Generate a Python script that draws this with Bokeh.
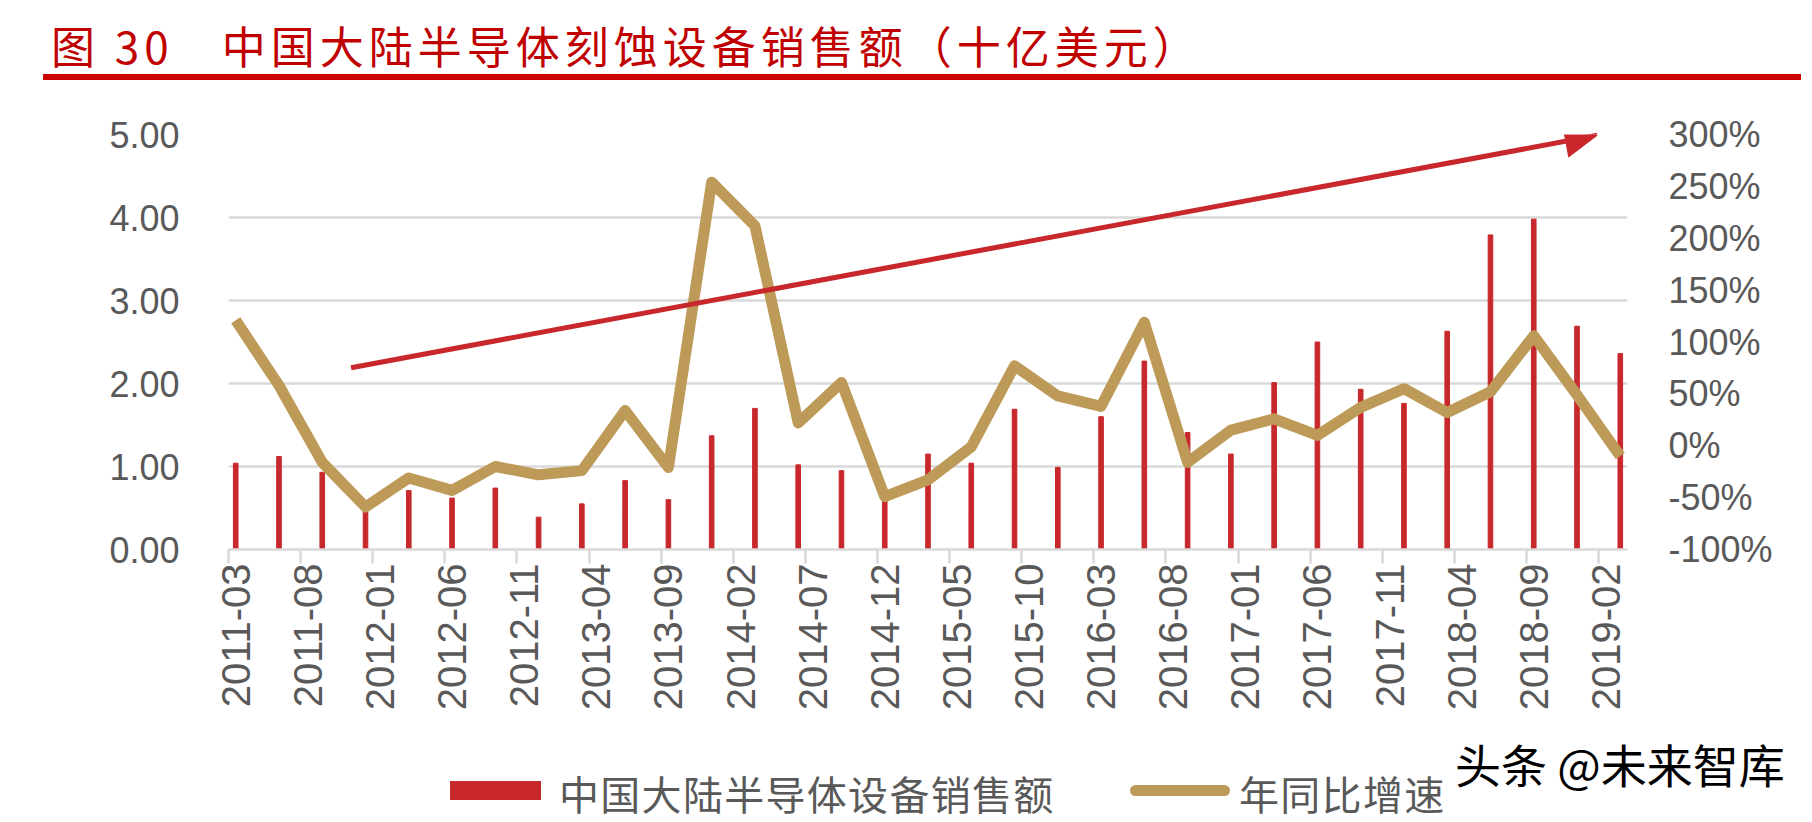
import math
from bokeh.plotting import figure
from bokeh.models import (Range1d, LinearAxis, FixedTicker, PrintfTickFormatter,
                          Arrow, NormalHead, Div)
from bokeh.layouts import column
from bokeh.embed import file_html
from bokeh.resources import INLINE

# quarterly data, x axis runs month by month from 2011-03 to 2019-03
quarters = ["2011-03", "2011-06", "2011-09", "2011-12",
            "2012-03", "2012-06", "2012-09", "2012-12",
            "2013-03", "2013-06", "2013-09", "2013-12",
            "2014-03", "2014-06", "2014-09", "2014-12",
            "2015-03", "2015-06", "2015-09", "2015-12",
            "2016-03", "2016-06", "2016-09", "2016-12",
            "2017-03", "2017-06", "2017-09", "2017-12",
            "2018-03", "2018-06", "2018-09", "2018-12",
            "2019-03"]
# sales, billion USD
sales = [1.04, 1.12, 0.93, 0.48, 0.71, 0.62, 0.74, 0.39,
         0.55, 0.83, 0.60, 1.37, 1.70, 1.02, 0.95, 0.60,
         1.15, 1.04, 1.69, 0.99, 1.60, 2.27, 1.41, 1.15,
         2.01, 2.50, 1.93, 1.76, 2.63, 3.79, 3.98, 2.69,
         2.36]
# year-on-year growth, %
yoy = [121, 58, -16, -59, -31, -43, -20, -28,
       -24, 34, -21, 254, 212, 22, 61, -49,
       -33, -1, 77, 48, 38, 119, -16, 15,
       26, 10, 37, 55, 32, 52, 106, 49,
       -10]

tick_labels = ["2011-03", "2011-08", "2012-01", "2012-06", "2012-11",
               "2013-04", "2013-09", "2014-02", "2014-07", "2014-12",
               "2015-05", "2015-10", "2016-03", "2016-08", "2017-01",
               "2017-06", "2017-11", "2018-04", "2018-09", "2019-02"]
left_ticks = [0, 1, 2, 3, 4, 5]
right_ticks = [-100, -50, 0, 50, 100, 150, 200, 250, 300]

TITLE_NUM = "图 30"
TITLE_TEXT = "中国大陆半导体刻蚀设备销售额（十亿美元）"
BAR_LABEL = "中国大陆半导体设备销售额"
LINE_LABEL = "年同比增速"
WATERMARK = "头条 @未来智库"

# trend arrow (month position, left axis value)
ARROW_START = (8.5, 2.19)
ARROW_END = (94.9, 4.99)

RED = "#c8282c"
GOLD = "#bd9a58"
GRAY = "#595959"
GRID = "#d9d9d9"


def month_pos(s):
    y, m = s.split("-")
    return (int(y) - 2011) * 12 + int(m) - 3


bar_x = [month_pos(q) + 0.5 for q in quarters]
tick_pos = [month_pos(t) for t in tick_labels]
label_pos = [t + 0.5 for t in tick_pos]

title_html = (
    '<div style="margin-left:38px;width:1758px;height:75px;box-sizing:border-box;'
    'padding-top:11px;border-bottom:6px solid #cc0000;font-family:\'Noto Sans CJK SC\';'
    'font-size:44px;line-height:58px;color:#c00000;letter-spacing:5px;white-space:nowrap">'
    '<span style="margin-left:8px">%s</span><span style="margin-left:48px">%s</span></div>'
    % (TITLE_NUM, TITLE_TEXT))
title = Div(text=title_html, width=1796, height=75)

p = figure(width=1803, height=640, x_range=Range1d(0, 97), y_range=Range1d(0, 5),
           output_backend="svg", toolbar_location=None,
           min_border_left=228, min_border_right=176,
           min_border_top=49, min_border_bottom=176)
p.outline_line_color = None
p.xgrid.visible = False
p.ygrid.ticker = FixedTicker(ticks=left_ticks)
p.ygrid.grid_line_color = GRID
p.ygrid.grid_line_width = 2.5

# left axis
p.yaxis.ticker = FixedTicker(ticks=left_ticks)
p.yaxis.formatter = PrintfTickFormatter(format="%.2f")
p.yaxis.axis_line_color = None
p.yaxis.major_tick_line_color = None
p.yaxis.minor_tick_line_color = None
p.yaxis.major_label_standoff = 43
p.yaxis.major_label_text_font = "Liberation Sans"
p.yaxis.major_label_text_font_size = "36px"
p.yaxis.major_label_text_color = GRAY

# right axis
p.extra_y_ranges = {"pct": Range1d(-100, 300)}
ax_r = LinearAxis(y_range_name="pct", ticker=FixedTicker(ticks=right_ticks),
                  formatter=PrintfTickFormatter(format="%d%%"))
ax_r.axis_line_color = None
ax_r.major_tick_line_color = None
ax_r.minor_tick_line_color = None
ax_r.major_label_standoff = 35
ax_r.major_label_text_font = "Liberation Sans"
ax_r.major_label_text_font_size = "36px"
ax_r.major_label_text_color = GRAY
p.add_layout(ax_r, "right")

# bottom axis: tick marks at month boundaries
ax_x = p.xaxis[0]
ax_x.ticker = FixedTicker(ticks=tick_pos)
ax_x.major_label_overrides = {t: "" for t in tick_pos}
ax_x.major_label_text_font_size = "1px"
ax_x.major_label_standoff = 0
ax_x.minor_tick_line_color = None
ax_x.axis_line_color = GRID
ax_x.axis_line_width = 2.5
ax_x.major_tick_line_color = GRID
ax_x.major_tick_line_width = 2.5
ax_x.major_tick_in = 0
ax_x.major_tick_out = 14

# second bottom axis: the date labels, centred on their month
ax_l = LinearAxis(ticker=FixedTicker(ticks=label_pos))
ax_l.major_label_overrides = {lp: lab for lp, lab in zip(label_pos, tick_labels)}
ax_l.major_label_orientation = math.pi / 2
ax_l.major_label_standoff = 0
ax_l.major_label_text_font = "Liberation Sans"
ax_l.major_label_text_font_size = "40px"
ax_l.major_label_text_color = GRAY
ax_l.axis_line_color = None
ax_l.major_tick_line_color = None
ax_l.minor_tick_line_color = None
ax_l.major_tick_out = 0
ax_l.major_tick_in = 0
p.add_layout(ax_l, "below")

p.vbar(x=bar_x, top=sales, width=0.32, color=RED)
p.line(x=bar_x, y=yoy, y_range_name="pct", line_color=GOLD,
       line_width=11, line_join="round")

p.add_layout(Arrow(end=NormalHead(size=32, fill_color=RED, line_color=RED),
                   x_start=ARROW_START[0], y_start=ARROW_START[1],
                   x_end=ARROW_END[0], y_end=ARROW_END[1],
                   line_color=RED, line_width=5))

# legend and watermark strip under the chart
txt = "position:absolute;white-space:nowrap;font-family:'Noto Sans CJK SC';"
foot_html = (
    '<div style="position:relative;width:1796px;height:91px">'
    '<span style="position:absolute;left:445px;top:51px;width:91px;height:19px;background:%s"></span>'
    '<span style="%sleft:554px;top:40px;font-size:40px;line-height:46px;color:%s;letter-spacing:1.3px">%s</span>'
    '<span style="position:absolute;left:1125px;top:55px;width:100px;height:11px;border-radius:6px;background:%s"></span>'
    '<span style="%sleft:1234px;top:40px;font-size:40px;line-height:46px;color:%s;letter-spacing:1.3px">%s</span>'
    '<span style="%sleft:1450px;top:5px;font-size:46px;line-height:56px;color:#000">%s</span>'
    '</div>'
    % (RED, txt, GRAY, BAR_LABEL, GOLD, txt, GRAY, LINE_LABEL, txt, WATERMARK))
foot = Div(text=foot_html, width=1796, height=91)

layout = column(title, p, foot)
open("out.html", "w").write(file_html(layout, INLINE))
